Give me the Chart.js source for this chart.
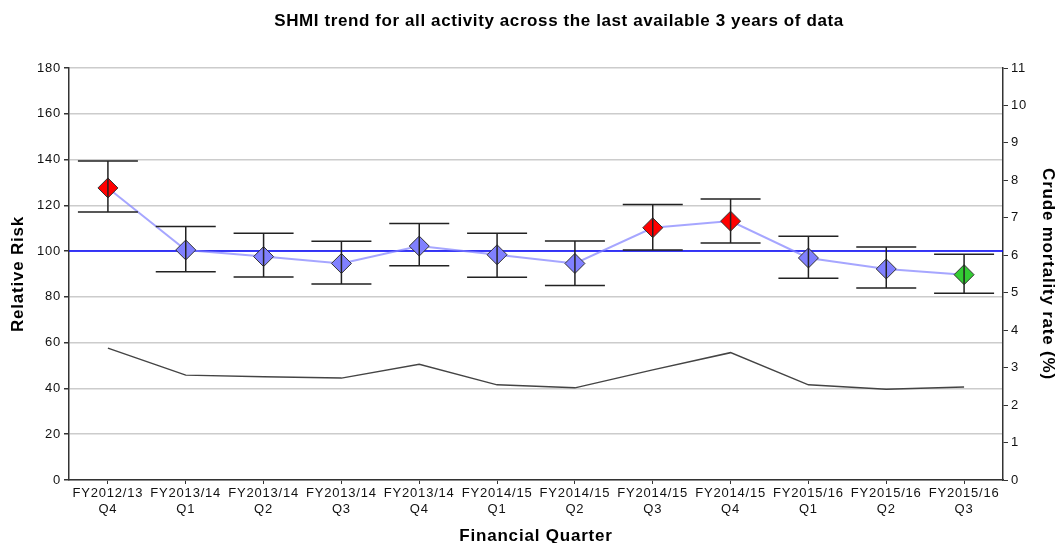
<!DOCTYPE html>
<html>
<head>
<meta charset="utf-8">
<script src="https://cdn.jsdelivr.net/npm/chart.js@4.4.1/dist/chart.umd.min.js"></script>
<style>
  html, body { margin: 0; padding: 0; background: #fff; }
  #wrap { width: 1058px; height: 543px; }
</style>
</head>
<body>
<div id="wrap"><canvas id="c" width="1058" height="543"></canvas></div>
<script>
// Financial quarters (two-line labels)
const quarters = [
  ["FY2012/13", "Q4"], ["FY2013/14", "Q1"], ["FY2013/14", "Q2"], ["FY2013/14", "Q3"],
  ["FY2013/14", "Q4"], ["FY2014/15", "Q1"], ["FY2014/15", "Q2"], ["FY2014/15", "Q3"],
  ["FY2014/15", "Q4"], ["FY2015/16", "Q1"], ["FY2015/16", "Q2"], ["FY2015/16", "Q3"]
];

// SHMI relative risk with its control limits
const shmiValues = [127.6, 100.5, 97.6, 94.6, 102.2, 98.4, 94.6, 110.2, 113.1, 97.0, 92.2, 89.7];
const upperLimits = [139.4, 110.7, 107.8, 104.3, 112.1, 107.8, 104.4, 120.4, 122.8, 106.5, 101.8, 98.6];
const lowerLimits = [117.1, 91.0, 88.7, 85.6, 93.6, 88.6, 85.0, 100.5, 103.5, 88.1, 83.9, 81.6];

// Banding of each quarter: higher / expected / lower than expected
const banding = ["higher", "expected", "expected", "expected", "expected", "expected",
                 "expected", "higher", "higher", "expected", "expected", "lower"];

// Crude mortality rate (%)
const crudeMortality = [3.52, 2.80, 2.76, 2.72, 3.09, 2.54, 2.46, 2.94, 3.40, 2.54, 2.42, 2.48];

// Axis ranges
const riskAxis = { min: 0, max: 180, step: 20 };
const rateAxis = { min: 0, max: 11, step: 1 };
const nationalBaseline = 100;

const bandColours = { higher: "#ff0000", expected: "#8080ff", lower: "#33cc33" };

const FONT = "'Liberation Sans', Arial, sans-serif";
const SPACING = "0.8px";

// Slightly open letter spacing for all chart text
const spacingPlugin = {
  id: "spacing",
  beforeUpdate(chart) { chart.ctx.letterSpacing = SPACING; },
  beforeLayout(chart) { chart.ctx.letterSpacing = SPACING; },
  beforeDraw(chart) { chart.ctx.letterSpacing = SPACING; }
};

// Horizontal baseline at relative risk 100
const baselinePlugin = {
  id: "baseline",
  beforeDatasetsDraw(chart) {
    const { ctx, chartArea, scales } = chart;
    const y = scales.y.getPixelForValue(nationalBaseline);
    ctx.save();
    ctx.strokeStyle = "#0000ff";
    ctx.lineWidth = 1.5;
    ctx.beginPath();
    ctx.moveTo(chartArea.left, y);
    ctx.lineTo(chartArea.right, y);
    ctx.stroke();
    ctx.restore();
  }
};

// Whiskers for the control limits
const limitsPlugin = {
  id: "limits",
  afterDatasetsDraw(chart) {
    const { ctx, scales } = chart;
    const half = 30;
    ctx.save();
    ctx.strokeStyle = "#222";
    ctx.lineWidth = 1.5;
    quarters.forEach((q, i) => {
      const x = scales.x.getPixelForValue(i);
      const yu = scales.y.getPixelForValue(upperLimits[i]);
      const yl = scales.y.getPixelForValue(lowerLimits[i]);
      ctx.beginPath();
      ctx.moveTo(x, yu); ctx.lineTo(x, yl);
      ctx.moveTo(x - half, yu); ctx.lineTo(x + half, yu);
      ctx.moveTo(x - half, yl); ctx.lineTo(x + half, yl);
      ctx.stroke();
    });
    ctx.restore();
  }
};

// Chart heading
const headingPlugin = {
  id: "heading",
  afterDraw(chart) {
    const { ctx } = chart;
    ctx.save();
    ctx.letterSpacing = "0.6px";
    ctx.fillStyle = "#000";
    ctx.font = "bold 17px " + FONT;
    ctx.textAlign = "center";
    ctx.textBaseline = "middle";
    ctx.fillText("SHMI trend for all activity across the last available 3 years of data", 559, 21);
    ctx.restore();
  }
};

new Chart(document.getElementById("c"), {
  type: "line",
  data: {
    labels: quarters,
    datasets: [
      {
        label: "SHMI",
        data: shmiValues,
        yAxisID: "y",
        borderColor: "rgba(128,128,255,0.7)",
        borderWidth: 2,
        pointStyle: "rectRot",
        pointRadius: 10,
        pointHoverRadius: 10,
        pointBackgroundColor: banding.map(b => bandColours[b]),
        pointBorderColor: "#333",
        pointBorderWidth: 1,
        tension: 0,
        order: 1
      },
      {
        label: "Crude mortality rate",
        data: crudeMortality,
        yAxisID: "y1",
        borderColor: "#444",
        borderWidth: 1.5,
        pointRadius: 0,
        tension: 0,
        order: 2
      }
    ]
  },
  options: {
    responsive: false,
    animation: false,
    layout: { padding: { top: 68, left: 0, right: 0, bottom: 0 } },
    plugins: {
      legend: { display: false },
      title: { display: false },
      tooltip: { enabled: false }
    },
    scales: {
      x: {
        offset: true,
        grid: { display: true, drawOnChartArea: false, drawTicks: true, tickLength: 4, tickColor: "#333", offset: false },
        border: { color: "#333", width: 1.5 },
        ticks: { color: "#111", font: { family: FONT, size: 13 }, maxRotation: 0, autoSkip: false, padding: 2 },
        title: { display: true, text: "Financial Quarter", color: "#000", font: { family: FONT, size: 17, weight: "bold" }, padding: { top: 0, bottom: -4 } },
        afterFit(scale) { scale.height = 63; }
      },
      y: {
        position: "left",
        min: riskAxis.min, max: riskAxis.max,
        ticks: { stepSize: riskAxis.step, color: "#111", font: { family: FONT, size: 13 }, padding: 3 },
        grid: { color: "#cccccc", lineWidth: 1.5, tickColor: "#333", tickLength: 5 },
        border: { color: "#333", width: 1.5 },
        title: { display: true, text: "Relative Risk", color: "#000", font: { family: FONT, size: 17, weight: "bold" }, padding: { top: 8, bottom: 0 } },
        afterFit(scale) { scale.width = 69; }
      },
      y1: {
        position: "right",
        min: rateAxis.min, max: rateAxis.max,
        ticks: { stepSize: rateAxis.step, color: "#111", font: { family: FONT, size: 13 }, padding: 3 },
        grid: { drawOnChartArea: false, tickColor: "#333", tickLength: 5 },
        border: { color: "#333", width: 1.5 },
        title: { display: true, text: "Crude mortality rate (%)", color: "#000", font: { family: FONT, size: 17, weight: "bold" }, padding: 0 },
        afterFit(scale) { scale.width = 55; }
      }
    }
  },
  plugins: [spacingPlugin, baselinePlugin, limitsPlugin, headingPlugin]
});
</script>
</body>
</html>
